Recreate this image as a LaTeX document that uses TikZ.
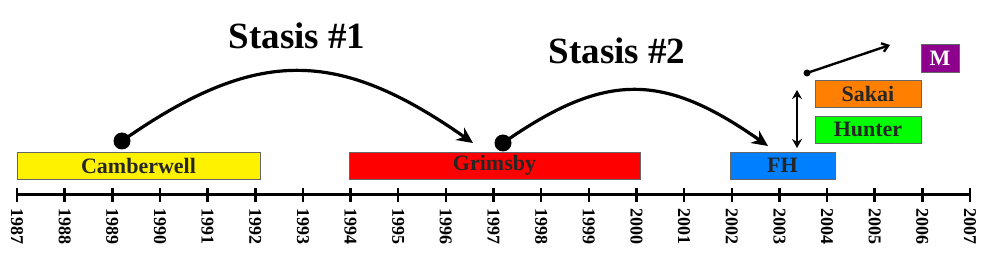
\documentclass[tikz,border=0pt]{standalone}
\usepackage{fontspec}
\setmainfont{Liberation Serif}
\usetikzlibrary{arrows.meta,positioning}

\definecolor{fhblue}{RGB}{0,128,255}
\definecolor{sakaiorange}{RGB}{255,128,0}
\definecolor{mpurple}{RGB}{140,0,140}

\begin{document}
\begin{tikzpicture}[
    x=1pt, y=1pt,
    bar/.style={draw=black!60, rectangle, minimum height=27pt, inner sep=0pt,
                font=\fontsize{22}{22}\selectfont\bfseries, text=black!85},
    title/.style={font=\fontsize{37}{37}\selectfont\bfseries},
    yearlab/.style={rotate=-90, anchor=west, inner sep=0pt,
                font=\fontsize{18}{18}\selectfont\bfseries},
    dot/.style={circle, fill=black, inner sep=0pt, minimum size=17pt},
    smalldot/.style={circle, fill=black, inner sep=0pt, minimum size=7pt},
    arrow/.style={-{Stealth[length=16pt,width=15pt,inset=5pt]}, line width=3.2pt},
    both/.style={{Stealth[length=9pt,width=10pt]}-{Stealth[length=9pt,width=10pt]}, line width=2.6pt},
    thin arrow/.style={-{Straight Barb[length=6pt,width=9pt]}, line width=2.4pt}
]
\fill[white] (0,0) rectangle (1000,262);
\useasboundingbox (0,0) rectangle (1000,262);

% time axis
\draw[line width=3pt] (17,67) -- (970,67);
\foreach \yr in {1987,...,2007} {
    \pgfmathsetmacro{\xx}{17+(\yr-1987)*47.65}
    \draw[line width=2.5pt] (\xx,60) -- (\xx,74);
    \node[yearlab] (y\yr) at (\xx,54) {\yr};
}

% groups
\node[bar, fill=yellow, minimum width=243pt] (camb) at (138.5,96.5) {Camberwell};
\node[bar, fill=red, minimum width=291pt] (grim) at (494.5,96.5) {Grimsby};
\node[bar, fill=fhblue, minimum width=105pt] (fh) at (782.5,96.5) {FH};
\node[bar, fill=sakaiorange, minimum width=106pt] (sakai) at (868,168.5) {Sakai};
\node[bar, fill=green, minimum width=106pt, below=9pt of sakai] (hunter) {Hunter};
\node[bar, fill=mpurple, minimum width=38pt, minimum height=28pt, text=white] (m) at (940,204) {M};

% stasis arcs
\node[title] (st1) at (297,226) {Stasis \#1};
\node[title] (st2) at (617,211) {Stasis \#2};
\node[dot] (d1) at (122,121) {};
\node[dot] (d2) at (503,119) {};
\coordinate (e1) at (473,119);
\coordinate (e2) at (768,116);
\draw[arrow] (d1.center) to[out=35, in=145, looseness=1.2] (e1);
\draw[arrow] (d2.center) to[out=35, in=145, looseness=1.22] (e2);

% after FH
\coordinate (ua) at (797,172);
\coordinate (ub) at (797,114);
\draw[both] (ub) -- (ua);
\node[smalldot] (d3) at (807,189) {};
\coordinate (e3) at (890,217);
\draw[thin arrow] (d3.center) -- (e3);
\end{tikzpicture}
\end{document}
